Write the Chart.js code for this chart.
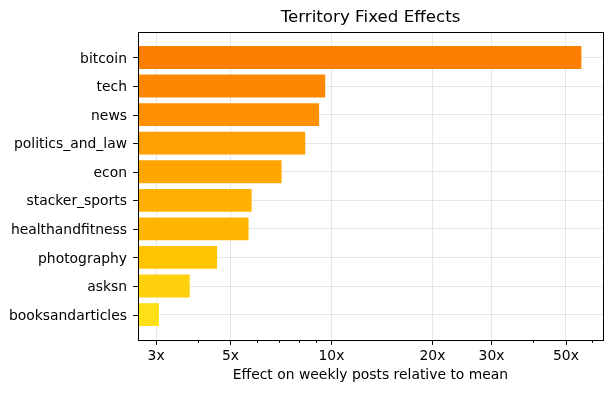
<!DOCTYPE html>
<html>
<head>
<meta charset="utf-8">
<script src="https://cdn.jsdelivr.net/npm/chart.js@4/dist/chart.umd.min.js"></script>
<style>
  html, body { margin: 0; padding: 0; background: #fff; }
  #wrap { width: 612px; height: 393px; }
</style>
</head>
<body>
<div id="wrap"><canvas id="chart" width="612" height="393"></canvas></div>
<script>
// ---- data ----
const categories = ['bitcoin', 'tech', 'news', 'politics_and_law', 'econ',
  'stacker_sports', 'healthandfitness', 'photography', 'asksn', 'booksandarticles'];
const effects = [55.6, 9.58, 9.19, 8.35, 7.1, 5.78, 5.66, 4.56, 3.78, 3.06];
const majorTicks = [3, 5, 10, 20, 30, 50];
const minorTicks = [4, 6, 7, 8, 9, 40, 60];

// colores tomados de la imagen (tipo Wistia)
const barColors = ['#fc7f00', '#fd8800', '#ff9100', '#ff9f00', '#ffa600',
  '#ffb000', '#ffb500', '#ffc300', '#ffd00c', '#ffe017'];

const FONT = 'DejaVu Sans';
const GRID = 'rgba(176,176,176,0.3)';

// marco y marcas de eje estilo matplotlib
const framePlugin = {
  id: 'frame',
  afterDraw(chart) {
    const { ctx, chartArea: a, scales } = chart;
    ctx.save();
    ctx.strokeStyle = '#000';
    ctx.lineWidth = 1;
    ctx.beginPath();
    const allX = majorTicks.concat(minorTicks);
    allX.forEach(v => {
      const px = Math.round(scales.x.getPixelForValue(v)) + 0.5;
      const len = majorTicks.includes(v) ? 4.9 : 2.8;
      ctx.moveTo(px, a.bottom);
      ctx.lineTo(px, a.bottom + len);
    });
    categories.forEach((c, i) => {
      const py = Math.round(scales.y.getPixelForValue(i)) + 0.5;
      ctx.moveTo(a.left, py);
      ctx.lineTo(a.left - 4.9, py);
    });
    ctx.stroke();
    ctx.strokeRect(Math.round(a.left) + 0.5, Math.round(a.top) + 0.5,
      Math.round(a.right - a.left), Math.round(a.bottom - a.top));
    ctx.restore();
  }
};

new Chart(document.getElementById('chart'), {
  type: 'bar',
  data: {
    datasets: [{
      data: effects.map((v, i) => ({ x: v, y: i })),
      backgroundColor: barColors,
      borderWidth: 0,
      barPercentage: 0.8,
      categoryPercentage: 1.0
    }]
  },
  options: {
    indexAxis: 'y',
    responsive: false,
    animation: false,
    layout: { padding: { left: 0, right: 9, top: 0, bottom: 0 } },
    plugins: {
      legend: { display: false },
      tooltip: { enabled: false },
      title: {
        display: true,
        text: 'Territory Fixed Effects',
        fullSize: false,
        color: '#000',
        font: { family: FONT, size: 16.7, weight: 'normal' },
        padding: { top: 8, bottom: 4 }
      }
    },
    scales: {
      x: {
        type: 'logarithmic',
        min: 2.65,
        max: 64.5,
        afterBuildTicks(scale) {
          scale.ticks = majorTicks.concat(minorTicks).sort((a, b) => a - b).map(v => ({ value: v }));
        },
        afterFit(scale) { scale.height = 53; },
        ticks: {
          autoSkip: false,
          maxRotation: 0,
          padding: 8,
          color: '#000',
          font: { family: FONT, size: 13.9 },
          callback: v => majorTicks.includes(v) ? v + 'x' : ''
        },
        grid: {
          drawTicks: false,
          color: c => (c.tick && majorTicks.includes(c.tick.value)) ? GRID : 'rgba(0,0,0,0)'
        },
        border: { display: false },
        title: {
          display: true,
          text: 'Effect on weekly posts relative to mean',
          color: '#000',
          font: { family: FONT, size: 13.9 },
          padding: { top: 2, bottom: 9 }
        }
      },
      y: {
        type: 'linear',
        reverse: true,
        offset: false,
        bounds: 'data',
        min: -0.89,
        max: 9.89,
        afterBuildTicks(scale) {
          scale.ticks = categories.map((c, i) => ({ value: i }));
        },
        afterFit(scale) { scale.width = 138; },
        ticks: {
          autoSkip: false,
          padding: 11,
          labelOffset: 1.5,
          color: '#000',
          font: { family: FONT, size: 13.9 },
          callback: v => categories[v]
        },
        grid: { drawTicks: false, offset: false, color: GRID },
        border: { display: false }
      }
    }
  },
  plugins: [framePlugin]
});
</script>
</body>
</html>
